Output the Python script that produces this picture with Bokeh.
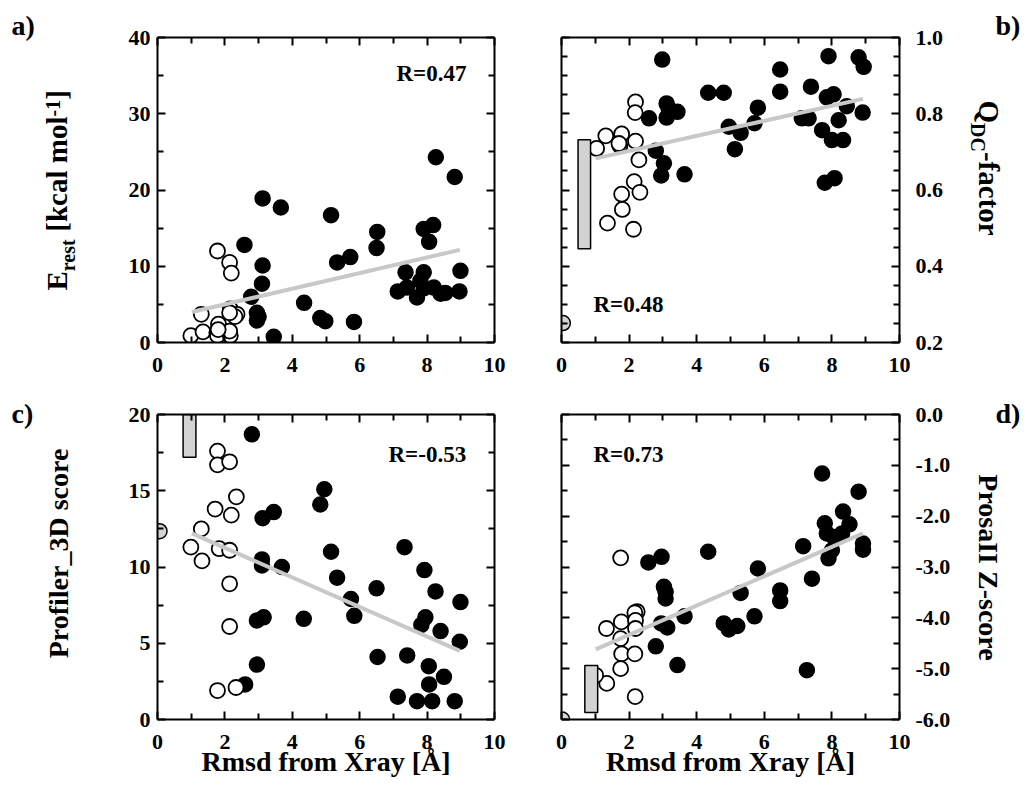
import math
from bokeh.plotting import figure
from bokeh.models import LinearAxis, FixedTicker, Label, NumeralTickFormatter, Range1d
from bokeh.layouts import column, row
from bokeh.embed import file_html
from bokeh.resources import INLINE

FONT = "Liberation Serif"

# ---------------- data ----------------
x_ticks = [0, 2, 4, 6, 8, 10]
x_minor = [1, 3, 5, 7, 9]
x_title = "Rmsd from Xray [Å]"

# panel a
a_yticks = [0, 10, 20, 30, 40]
a_yminor = [5, 15, 25, 35]
a_open_x = [1.78, 2.14, 2.19, 1.30, 0.99, 1.35, 1.81, 1.76, 1.78, 2.16, 2.14, 2.16, 2.36, 2.30, 2.14, 1.80]
a_open_y = [12.0, 10.5, 9.1, 3.7, 0.9, 1.4, 2.4, 1.3, 0.9, 0.9, 1.5, 4.4, 3.7, 3.4, 3.9, 1.7]
a_fill_x = [3.12, 3.66, 2.58, 3.12, 3.10, 2.78, 2.95, 3.00, 2.95, 3.45, 4.35, 4.83, 4.98, 5.83, 5.15, 5.33,
            5.72, 6.52, 6.50, 7.13, 7.36, 7.40, 7.70, 7.90, 7.80, 7.90, 7.90, 8.18, 8.06, 8.20, 8.26, 8.40,
            8.54, 8.82, 8.96, 8.99]
a_fill_y = [18.9, 17.7, 12.8, 10.1, 7.7, 6.0, 3.9, 3.4, 2.9, 0.75, 5.2, 3.2, 2.8, 2.7, 16.7, 10.5,
            11.2, 14.5, 12.4, 6.7, 9.2, 7.2, 5.9, 9.2, 8.1, 7.1, 14.9, 15.4, 13.2, 7.2, 24.3, 6.4,
            6.5, 21.7, 6.7, 9.4]
a_fit_x = [1.02, 8.97]
a_fit_y = [4.0, 12.15]
a_R = "R=0.47"
a_ytitle = [("E", "main"), ("rest", "sub"), (" ", "main"), ("[kcal mol", "main"), ("-1", "sup"), ("]", "main")]

# panel b
b_yticks = [0.2, 0.4, 0.6, 0.8, 1.0]
b_yminor = [0.25, 0.3, 0.35, 0.45, 0.5, 0.55, 0.65, 0.7, 0.75, 0.85, 0.9, 0.95]
b_open_x = [2.19, 2.18, 1.31, 1.78, 1.73, 1.70, 2.19, 1.04, 2.29, 2.15, 2.32, 1.78, 1.80, 1.36, 2.13]
b_open_y = [0.831, 0.803, 0.742, 0.747, 0.716, 0.722, 0.728, 0.709, 0.679, 0.622, 0.594, 0.589, 0.549,
            0.513, 0.497]
b_fill_x = [2.98, 2.59, 3.11, 3.11, 3.43, 3.17, 2.79, 3.03, 2.95, 3.64, 4.34, 4.80, 4.95, 5.30, 5.13,
            5.71, 5.81, 6.47, 6.47, 7.11, 7.31, 7.38, 7.71, 7.90, 7.85, 8.05, 8.00, 8.33, 8.20, 8.44,
            7.79, 8.08, 8.79, 8.94, 8.91]
b_fill_y = [0.942, 0.788, 0.827, 0.790, 0.805, 0.814, 0.703, 0.670, 0.638, 0.641, 0.855, 0.855, 0.766,
            0.750, 0.707, 0.775, 0.816, 0.916, 0.858, 0.788, 0.788, 0.871, 0.757, 0.951, 0.843, 0.851,
            0.731, 0.731, 0.783, 0.820, 0.619, 0.631, 0.948, 0.923, 0.803]
b_fit_x = [1.01, 8.92]
b_fit_y = [0.683, 0.839]
b_bar = [0.49, 0.86, 0.446, 0.732]   # left, right, bottom, top
b_ref_x = [0.04]
b_ref_y = [0.251]
b_R = "R=0.48"
b_ytitle = [("Q", "main"), ("DC", "sub"), ("-factor", "main")]

# panel c
c_yticks = [0, 5, 10, 15, 20]
c_yminor = [2.5, 7.5, 12.5, 17.5]
c_open_x = [1.78, 1.78, 2.14, 2.34, 1.71, 2.19, 1.30, 0.99, 1.32, 1.83, 2.14, 2.14, 2.14, 1.78, 2.33]
c_open_y = [17.6, 16.7, 16.9, 14.6, 13.8, 13.4, 12.5, 11.3, 10.4, 11.2, 11.1, 8.9, 6.1, 1.9, 2.1]
c_fill_x = [2.80, 3.12, 3.45, 3.10, 3.10, 3.69, 2.95, 3.15, 2.95, 2.60, 4.83, 4.95, 5.15, 5.33, 5.74,
            5.84, 4.34, 6.50, 6.53, 7.33, 7.13, 7.41, 7.70, 7.92, 7.95, 7.83, 8.25, 8.40, 8.05, 8.06,
            8.15, 8.50, 8.82, 8.99, 8.97]
c_fill_y = [18.7, 13.2, 13.6, 10.5, 10.1, 10.0, 6.5, 6.7, 3.6, 2.3, 14.1, 15.1, 11.0, 9.3, 7.9,
            6.8, 6.6, 8.6, 4.1, 11.3, 1.5, 4.2, 1.2, 9.8, 6.7, 6.2, 8.4, 5.8, 3.5, 2.3,
            1.2, 2.8, 1.2, 7.7, 5.1]
c_fit_x = [1.02, 8.97]
c_fit_y = [12.2, 4.5]
c_bar = [0.76, 1.14, 17.2, 20.0]
c_ref_x = [0.06]
c_ref_y = [12.35]
c_R = "R=-0.53"
c_ytitle = "Profiler_3D score"

# panel d
d_yticks = [-6, -5, -4, -3, -2, -1, 0]
d_yminor = [-5.5, -4.5, -3.5, -2.5, -1.5, -0.5]
d_open_x = [1.75, 2.24, 2.17, 1.77, 2.19, 2.19, 1.33, 1.75, 1.78, 2.17, 1.75, 1.34, 2.18, 1.01]
d_open_y = [-2.82, -3.88, -3.90, -4.08, -4.05, -4.21, -4.21, -4.41, -4.71, -4.71, -5.00, -5.29, -5.55, -5.13]
d_fill_x = [2.57, 2.96, 3.03, 3.08, 3.08, 2.95, 3.13, 3.64, 2.79, 3.43, 4.34, 4.80, 4.95, 5.20, 5.30,
            5.71, 5.81, 6.47, 6.47, 7.15, 7.41, 7.26, 7.71, 7.79, 7.85, 8.05, 8.00, 7.90, 8.33, 8.52,
            8.30, 8.79, 8.92, 8.92]
d_fill_y = [-2.91, -2.80, -3.39, -3.49, -3.62, -4.11, -4.19, -3.97, -4.56, -4.93, -2.70, -4.11, -4.23,
            -4.16, -3.51, -3.97, -3.03, -3.46, -3.67, -2.59, -3.23, -5.03, -1.16, -2.14, -2.34, -2.41,
            -2.67, -2.83, -1.91, -2.16, -2.34, -1.52, -2.54, -2.66]
d_fit_x = [1.01, 8.92]
d_fit_y = [-4.62, -2.34]
d_bar = [0.69, 1.07, -5.86, -4.94]
d_ref_x = [0.02]
d_ref_y = [-6.0]
d_R = "R=0.73"
d_ytitle = "ProsaII Z-score"

# ---------------- styling / layout ----------------
TICK_FS = "22px"
TITLE_FS = 28
GRAY_LINE = "#c8c8c8"
GRAY_FILL = "#d3d3d3"
FH = 305
KB = 0.38   # empirical baseline correction (fraction of font size)

# approx. Times-Bold advance widths (em) for building composite labels
TB = {'E': .667, 'r': .444, 'e': .444, 's': .389, 't': .333, ' ': .25, '[': .333, 'k': .556,
      'c': .444, 'a': .5, 'l': .278, 'm': .833, 'o': .5, '-': .333, '1': .5, ']': .333,
      'Q': .778, 'D': .722, 'C': .722, 'f': .333}


def tw(s, fs):
    return sum(TB.get(ch, .5) for ch in s) * fs


def corrected(px, py, fs, angle):
    """Shift the anchor so the glyph baseline lands on (px, py) in page pixels."""
    d = KB * fs
    if abs(angle) < 1e-9:
        return px, py - d
    if angle > 0:          # reads bottom -> top; text 'down' is screen right
        return px - d, py
    return px + d, py      # reads top -> bottom; text 'down' is screen left


def make_label(x, y, text, fs, angle=0.0, align="left"):
    return Label(x=x, y=y, text=text, angle=angle, text_font=FONT, text_font_style="bold",
                 text_font_size=f"{fs}px", text_color="black",
                 text_align=align, text_baseline="alphabetic")


class Gutter:
    """Blank full-height strip beside the panels that holds side texts (page-pixel coordinates)."""
    def __init__(self, x0, w, h):
        g = figure(x_range=Range1d(x0, x0 + w), y_range=Range1d(h, 0),
                   frame_width=w, frame_height=h, min_border=0,
                   output_backend="svg", toolbar_location=None,
                   x_axis_location=None, y_axis_location=None)
        g.grid.visible = False
        g.outline_line_color = None
        g.background_fill_color = "white"
        g.border_fill_color = "white"
        self.p = g

    def label(self, px, py, text, fs, angle=0.0, align="left"):
        x, y = corrected(px, py, fs, angle)
        self.p.add_layout(make_label(x, y, text, fs, angle, align))

    def composite(self, pieces, base_x, start_y, direction, main=29, small=20, sub=7, sup=-8):
        # direction +1: reads bottom->top (angle +90), -1: reads top->bottom (angle -90)
        angle = direction * math.pi / 2
        ypos = start_y
        for txt, kind in pieces:
            fs = main if kind == "main" else small
            shift = {"main": 0, "sub": sub, "sup": sup}[kind] * direction
            if txt.strip():
                self.label(base_x + shift, ypos, txt, fs, angle=angle)
            ypos -= direction * tw(txt, fs)


class Panel:
    def __init__(self, yr, ymaj, ymin, yfmt, side, fx0, fy0, fw, bl, br, bt, bb, xlabel=None):
        self.yr = yr
        self.fx0, self.fy0, self.fw, self.fh = fx0, fy0, fw, FH
        p = figure(x_range=Range1d(0, 10), y_range=Range1d(*yr),
                   frame_width=fw, frame_height=FH,
                   min_border_left=bl, min_border_right=br, min_border_top=bt, min_border_bottom=bb,
                   output_backend="svg", toolbar_location=None,
                   x_axis_location=None, y_axis_location=None)
        p.grid.visible = False
        p.outline_line_color = None
        p.background_fill_color = "white"
        p.border_fill_color = "white"
        xt = FixedTicker(ticks=x_ticks, minor_ticks=x_minor)
        yt = FixedTicker(ticks=ymaj, minor_ticks=ymin)
        for loc in ["below", "above", "left", "right"]:
            ax = LinearAxis(ticker=xt if loc in ("below", "above") else yt)
            ax.axis_line_width = 2
            ax.axis_line_color = "black"
            ax.major_tick_in = 8
            ax.major_tick_out = 0
            ax.minor_tick_in = 6
            ax.minor_tick_out = 0
            ax.major_tick_line_width = 2
            ax.minor_tick_line_width = 2
            ax.major_tick_line_color = "black"
            ax.minor_tick_line_color = "black"
            labeled = (loc == "below") or (loc == side)
            if labeled:
                ax.major_label_text_font = FONT
                ax.major_label_text_font_style = "bold"
                ax.major_label_text_font_size = TICK_FS
                ax.major_label_text_color = "black"
                if loc == "below":
                    ax.major_label_standoff = 15
                    if xlabel:
                        ax.axis_label = xlabel
                        ax.axis_label_text_font = FONT
                        ax.axis_label_text_font_style = "bold"
                        ax.axis_label_text_font_size = f"{TITLE_FS}px"
                        ax.axis_label_text_color = "black"
                        ax.axis_label_standoff = -6
                elif loc == "left":
                    ax.major_label_standoff = 7
                else:
                    ax.major_label_standoff = 16
                if loc in ("left", "right") and yfmt:
                    ax.formatter = NumeralTickFormatter(format=yfmt)
            else:
                ax.major_label_text_color = None
                ax.major_label_text_font_size = "1px"
                ax.major_label_standoff = 0
            p.add_layout(ax, loc)
        self.p = p

    def dx(self, px):
        return (px - self.fx0) / self.fw * 10.0

    def dy(self, py):
        y0, y1 = self.yr
        return y1 - (py - self.fy0) / self.fh * (y1 - y0)

    def label(self, px, py, text, fs):
        x, y = corrected(px, py, fs, 0.0)
        self.p.add_layout(make_label(self.dx(x), self.dy(y), text, fs))

    def draw(self, fx, fy, ox, oy, fitx, fity, bar=None, refx=None, refy=None):
        p = self.p
        p.scatter(fx, fy, size=15, fill_color="black", line_color="black", line_width=1.5)
        p.scatter(ox, oy, size=15, fill_color="white", line_color="black", line_width=1.8)
        p.line(fitx, fity, line_color=GRAY_LINE, line_width=4)
        if bar is not None:
            p.quad(left=[bar[0]], right=[bar[1]], bottom=[bar[2]], top=[bar[3]],
                   fill_color=GRAY_FILL, line_color="black", line_width=1.5)
        if refx is not None:
            p.scatter(refx, refy, size=15, fill_color=GRAY_FILL, line_color="black", line_width=1.5)


# geometry (page pixels): left gutter 0..100, panels 100..958, right gutter 958..1028
ROW1_H = 37 + FH + 48
ROW2_H = 24 + FH + 62
TOTAL_H = ROW1_H + ROW2_H
gl = Gutter(0, 100, TOTAL_H)
gr = Gutter(958, 70, TOTAL_H)

pa = Panel((0, 40), a_yticks, a_yminor, None, "left", 157, 37, 337, 57, 33, 37, 48)
pb = Panel((0.2, 1.0), b_yticks, b_yminor, "0.0", "right", 561, 37, 338, 34, 59, 37, 48)
pc = Panel((0, 20), c_yticks, c_yminor, None, "left", 157, 414, 337, 57, 33, 24, 62, x_title)
pd = Panel((-6, 0), d_yticks, d_yminor, "0.0", "right", 561, 414, 338, 34, 59, 24, 62, x_title)

pa.draw(a_fill_x, a_fill_y, a_open_x, a_open_y, a_fit_x, a_fit_y)
pb.draw(b_fill_x, b_fill_y, b_open_x, b_open_y, b_fit_x, b_fit_y, b_bar, b_ref_x, b_ref_y)
pc.draw(c_fill_x, c_fill_y, c_open_x, c_open_y, c_fit_x, c_fit_y, c_bar, c_ref_x, c_ref_y)
pd.draw(d_fill_x, d_fill_y, d_open_x, d_open_y, d_fit_x, d_fit_y, d_bar, d_ref_x, d_ref_y)

# R annotations (baseline positions in page pixels)
pa.label(396, 82, a_R, 23)
pb.label(593, 313, b_R, 23)
pc.label(388, 463, c_R, 23)
pd.label(593, 463, d_R, 23)

# panel letters
gl.label(11, 36, "a)", TITLE_FS)
gr.label(995, 36, "b)", TITLE_FS)
gl.label(11, 424, "c)", TITLE_FS)
gr.label(995, 424, "d)", TITLE_FS)

# simple y titles
gl.label(69, 553, c_ytitle, TITLE_FS, angle=math.pi / 2, align="center")
gr.label(977, 567, d_ytitle, TITLE_FS, angle=-math.pi / 2, align="center")

# composite y titles
gl.composite(a_ytitle, 68, 290.0, +1)
gr.composite(b_ytitle, 977, 100.0, -1)

layout = row(gl.p, column(row(pa.p, pb.p), row(pc.p, pd.p)), gr.p)
open("out.html", "w").write(file_html(layout, INLINE))
